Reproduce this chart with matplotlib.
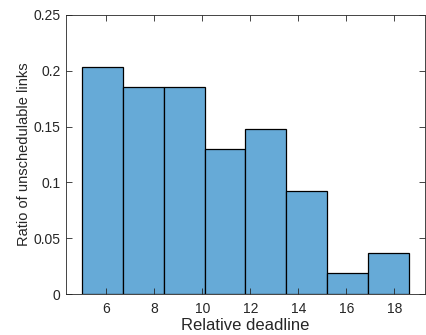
import matplotlib
matplotlib.use("Agg")
import matplotlib.pyplot as plt
import numpy as np

bin_edges = [5.0, 6.7, 8.4, 10.1, 11.8, 13.5, 15.2, 16.9, 18.6]
ratios = [11/54, 10/54, 10/54, 7/54, 8/54, 5/54, 1/54, 2/54]
xticks = [6, 8, 10, 12, 14, 16, 18]
yticks = [0, 0.05, 0.1, 0.15, 0.2, 0.25]
ytick_labels = ["0", "0.05", "0.1", "0.15", "0.2", "0.25"]

plt.rcParams['font.family'] = ['Liberation Sans', 'DejaVu Sans']
fig = plt.figure(figsize=(4.26, 3.35), dpi=100)
ax = fig.add_axes([66/426, 1 - 294/335, (425-66)/426, (294-15)/335])

edges = np.array(bin_edges)
widths = np.diff(edges)
ax.bar(edges[:-1], ratios, width=widths, align='edge',
       color='#66AAD7', edgecolor='black', linewidth=0.9)

ax.set_xlim(4.32, 19.28)
ax.set_ylim(0, 0.25)
ax.set_xticks(xticks)
ax.set_yticks(yticks)
ax.set_yticklabels(ytick_labels)
gray = '#262626'
ax.tick_params(direction='in', top=True, right=True, labelsize=10,
               colors=gray, length=4, width=0.6)
ax.tick_params(axis='x', pad=6)
ax.tick_params(axis='y', pad=4)
for s in ax.spines.values():
    s.set_color(gray)
    s.set_linewidth(0.6)
ax.set_xlabel('Relative deadline', fontsize=12, color=gray, labelpad=1)
ax.set_ylabel('Ratio of unschedulable links', fontsize=10.5, color=gray, labelpad=2)

fig.savefig('out.png', dpi=100)
